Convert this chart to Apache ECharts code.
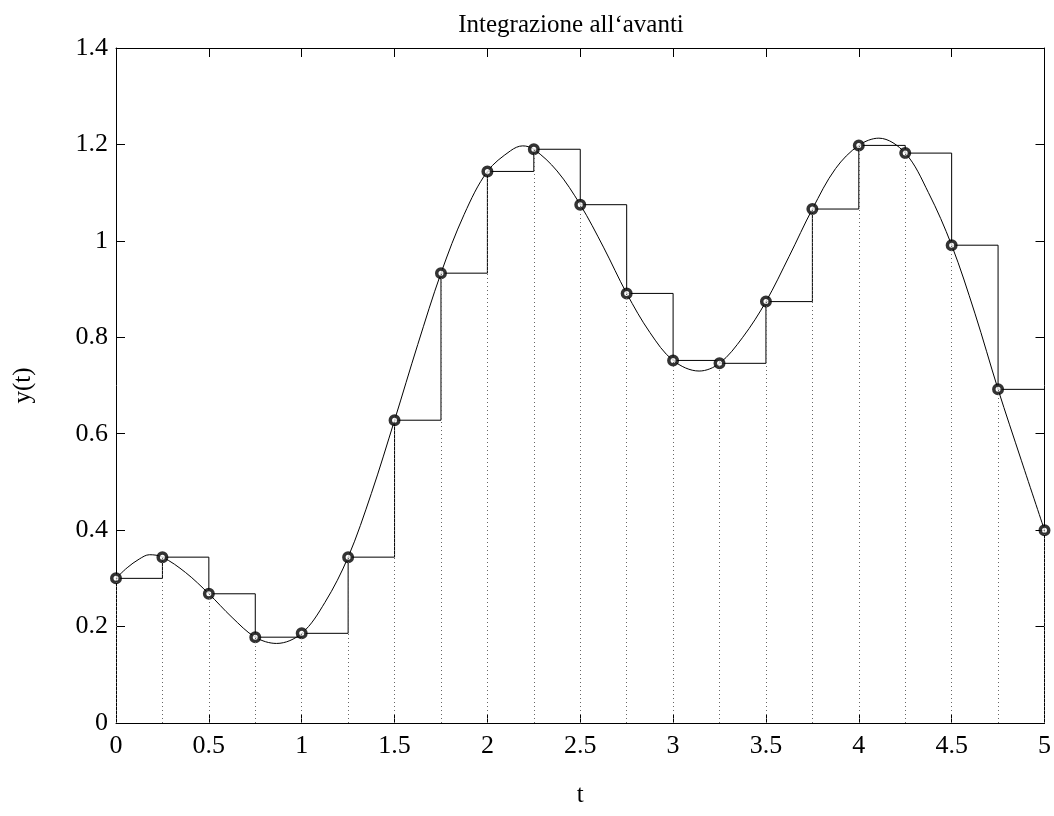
<!DOCTYPE html>
<html>
<head>
<meta charset="utf-8">
<script src="https://cdn.jsdelivr.net/npm/echarts@6/dist/echarts.min.js"></script>
<style>
html,body{margin:0;padding:0;background:#fff;}
#chart{width:1054px;height:816px;}
</style>
</head>
<body>
<div id="chart"></div>
<script>
// Sample instants and sampled values (markers / forward rectangles)
var sampleT = [0, 0.25, 0.5, 0.75, 1, 1.25, 1.5, 1.75, 2, 2.25, 2.5, 2.75, 3, 3.25, 3.5, 3.75, 4, 4.25, 4.5, 4.75, 5];
var sampleY = [0.300, 0.344, 0.268, 0.178, 0.186, 0.344, 0.628, 0.933, 1.144, 1.190, 1.075, 0.891, 0.752, 0.746, 0.874, 1.066, 1.198, 1.182, 0.991, 0.692, 0.400];

// Continuous curve y(t)
var curveT = [0, 0.06, 0.125, 0.18, 0.25, 0.375, 0.5, 0.625, 0.75, 0.865, 1, 1.125, 1.25, 1.375, 1.5, 1.625, 1.75, 1.875, 2, 2.125, 2.19, 2.25, 2.375, 2.5, 2.625, 2.75, 2.875, 3, 3.14, 3.25, 3.375, 3.5, 3.625, 3.75, 3.875, 4, 4.108, 4.25, 4.375, 4.5, 4.625, 4.75, 4.875, 5];
var curveY = [0.300, 0.322, 0.340, 0.349, 0.344, 0.312, 0.268, 0.219, 0.178, 0.165, 0.186, 0.250, 0.344, 0.476, 0.628, 0.785, 0.933, 1.055, 1.144, 1.187, 1.197, 1.190, 1.145, 1.075, 0.987, 0.891, 0.810, 0.752, 0.730, 0.746, 0.800, 0.874, 0.968, 1.066, 1.150, 1.198, 1.213, 1.182, 1.100, 0.991, 0.850, 0.692, 0.545, 0.400];

// Axis ticks
var xTicks = [0, 0.5, 1, 1.5, 2, 2.5, 3, 3.5, 4, 4.5, 5];
var yTicks = [0, 0.2, 0.4, 0.6, 0.8, 1, 1.2, 1.4];

var FONT = '"Liberation Serif", "DejaVu Serif", serif';

function pairs(xs, ys) { return xs.map(function (x, i) { return [x, ys[i]]; }); }

var dottedLines = sampleT.map(function (t, i) {
  return [{ coord: [t, 0] }, { coord: [t, sampleY[i]] }];
});

var chart = echarts.init(document.getElementById('chart'), null, { renderer: 'canvas' });
var baseAxisX = {
  type: 'value', min: xTicks[0], max: xTicks[xTicks.length - 1], interval: 0.5,
  axisLine: { show: true, onZero: false, lineStyle: { color: '#000', width: 1 } },
  axisTick: { show: true, inside: true, length: 9, lineStyle: { color: '#000', width: 1 } },
  splitLine: { show: false }
};
var baseAxisY = {
  type: 'value', min: yTicks[0], max: yTicks[yTicks.length - 1], interval: 0.2,
  axisLine: { show: true, onZero: false, lineStyle: { color: '#000', width: 1 } },
  axisTick: { show: true, inside: true, length: 9, lineStyle: { color: '#000', width: 1 } },
  splitLine: { show: false }
};
function fmt(v) { return String(Math.round(v * 10) / 10); }

chart.setOption({
  animation: false,
  backgroundColor: '#fff',
  title: {
    text: 'Integrazione all\u2018avanti',
    left: 566, top: 8, textAlign: 'center',
    textStyle: { fontFamily: FONT, fontSize: 25, fontWeight: 'normal', color: '#000' }
  },
  grid: { left: 116, right: 9, top: 48, bottom: 93, containLabel: false },
  xAxis: [
    Object.assign({}, baseAxisX, {
      position: 'bottom',
      name: 't', nameLocation: 'middle', nameGap: 60,
      nameTextStyle: { fontFamily: FONT, fontSize: 25, color: '#000' },
      axisLabel: { show: true, margin: 10, fontFamily: FONT, fontSize: 26, color: '#000', formatter: fmt }
    }),
    Object.assign({}, baseAxisX, { position: 'top', axisLabel: { show: false } })
  ],
  yAxis: [
    Object.assign({}, baseAxisY, {
      position: 'left',
      name: 'y(t)', nameLocation: 'middle', nameGap: 80, nameRotate: 90,
      nameTextStyle: { fontFamily: FONT, fontSize: 25, color: '#000' },
      axisLabel: { show: true, margin: 8, fontFamily: FONT, fontSize: 26, color: '#000', formatter: fmt }
    }),
    Object.assign({}, baseAxisY, { position: 'right', axisLabel: { show: false } })
  ],
  series: [
    {
      type: 'line', name: 'dotted', data: [], xAxisIndex: 0, yAxisIndex: 0,
      symbol: 'none', silent: true, z: 1,
      markLine: {
        silent: true, symbol: ['none', 'none'], label: { show: false },
        lineStyle: { color: '#666', width: 1, type: [1, 3] },
        data: dottedLines
      }
    },
    {
      type: 'line', name: 'stairs', data: pairs(sampleT, sampleY), step: 'end',
      symbol: 'none', lineStyle: { color: '#000', width: 1 }, z: 2
    },
    {
      type: 'line', name: 'curve', data: pairs(curveT, curveY), smooth: 0.35,
      symbol: 'none', lineStyle: { color: '#000', width: 1 }, z: 3
    },
    {
      type: 'scatter', name: 'samples', data: pairs(sampleT, sampleY),
      symbol: 'circle', symbolSize: 8.5,
      itemStyle: { color: '#fff', borderColor: '#000', borderWidth: 3.5 }, z: 4
    }
  ]
});
</script>
</body>
</html>
